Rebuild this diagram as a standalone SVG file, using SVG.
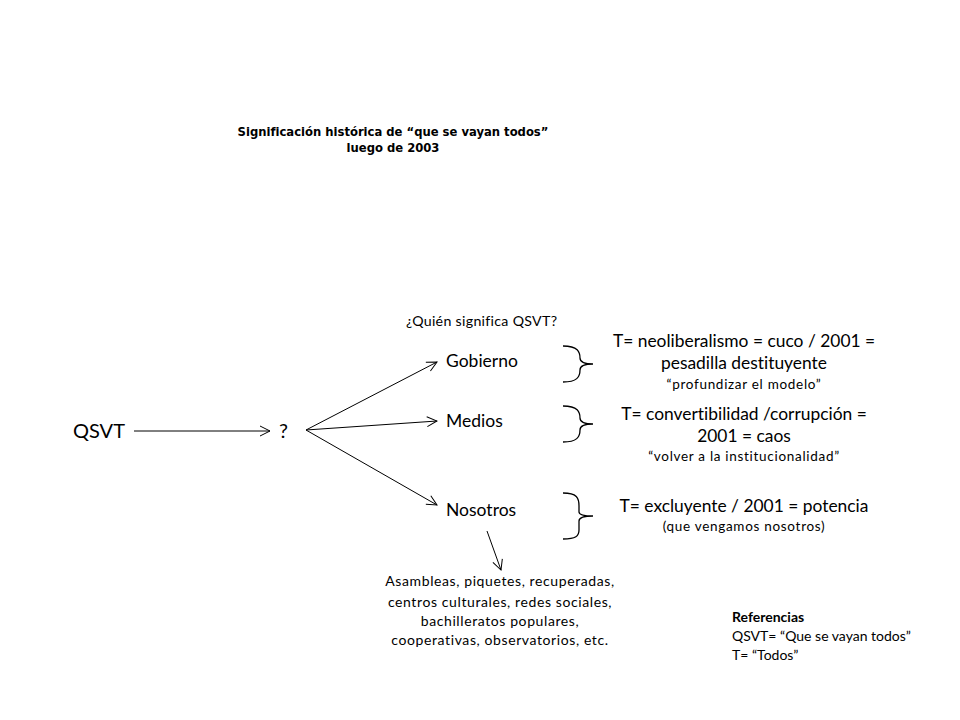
<svg xmlns="http://www.w3.org/2000/svg" width="960" height="720" viewBox="0 0 960 720">
<defs>
<marker id="ah" markerWidth="12" markerHeight="12" refX="11" refY="6" orient="auto" markerUnits="userSpaceOnUse">
<path d="M1,1 L11,6 L1,11" fill="none" stroke="#000" stroke-width="1"/>
</marker>
<style>
text{font-family:Lato,"Open Sans",sans-serif;fill:#000;font-variant-ligatures:none}
.title{font-family:"DejaVu Sans",Verdana,sans-serif;font-size:11.6px;font-weight:bold;text-anchor:middle}
.big{font-size:20px}
.node{font-size:17.5px}
.t{font-size:17.4px;text-anchor:middle}
.s{font-size:13.5px;text-anchor:middle;letter-spacing:0.7px}
.l{font-size:14px;text-anchor:middle;letter-spacing:0.6px}
.ref{font-size:14px}
.q{font-size:14.2px;letter-spacing:0.3px}
.conn{fill:none;stroke:#000;stroke-width:1;marker-end:url(#ah)}
.brace{fill:none;stroke:#000;stroke-width:1.3}
</style>
</defs>
<rect width="960" height="720" fill="#fff"/>
<g id="title">
<text class="title" x="393" y="136">Significación histórica de “que se vayan todos”</text>
<text class="title" x="393" y="152">luego de 2003</text>
</g>
<g id="connectors">
<line class="conn" x1="134" y1="431" x2="270" y2="431"/>
<line class="conn" x1="306" y1="430" x2="437" y2="362"/>
<line class="conn" x1="306" y1="430" x2="437" y2="421"/>
<line class="conn" x1="306" y1="430" x2="437" y2="505"/>
<line class="conn" x1="487" y1="531" x2="501" y2="570"/>
</g>
<g id="qsvt"><text class="big" x="73" y="438">QSVT</text></g>
<g id="q"><text class="big" x="279" y="438">?</text></g>
<g id="quien"><text class="q" x="406" y="326">¿Quién significa QSVT?</text></g>
<g id="gobierno"><text class="node" x="446" y="367">Gobierno</text></g>
<g id="medios"><text class="node" x="446" y="427">Medios</text></g>
<g id="nosotros"><text class="node" x="446" y="516">Nosotros</text></g>
<g id="brace1"><path class="brace" d="M563,346 C578,346 580,352 580,358 C580,362 584,364 593,364 C584,364 580,366 580,370 C580,377 577,382 563,382"/></g>
<g id="brace2"><path class="brace" d="M563,406 C578,406 580,412 580,418 C580,422 584,424 593,424 C584,424 580,426 580,430 C580,437 577,442 563,442"/></g>
<g id="brace3"><path class="brace" d="M563,493 C577,493 579,498 579,506 L579,512 C579,515 584,516 593,516 C584,516 579,517 579,521 L579,530 C579,536 576,539 563,539"/></g>
<g id="gob-text">
<text class="t" x="744" y="347">T= neoliberalismo = cuco / 2001 =</text>
<text class="t" x="744" y="369">pesadilla destituyente</text>
<text class="s" x="744" y="389">“profundizar el modelo”</text>
</g>
<g id="med-text">
<text class="t" x="744" y="420">T= convertibilidad /corrupción =</text>
<text class="t" x="744" y="442">2001 = caos</text>
<text class="s" x="744" y="461">“volver a la institucionalidad”</text>
</g>
<g id="nos-text">
<text class="t" x="744" y="512">T= excluyente / 2001 = potencia</text>
<text class="s" x="744" y="531">(que vengamos nosotros)</text>
</g>
<g id="lista">
<text class="l" x="500" y="586">Asambleas, piquetes,  recuperadas,</text>
<text class="l" x="500" y="607">centros culturales, redes sociales,</text>
<text class="l" x="500" y="626">bachilleratos populares,</text>
<text class="l" x="500" y="645">cooperativas, observatorios, etc.</text>
</g>
<g id="referencias">
<text class="ref" x="732" y="622" font-weight="bold">Referencias</text>
<text class="ref" x="732" y="641">QSVT= “Que se vayan todos”</text>
<text class="ref" x="732" y="660">T= “Todos”</text>
</g>
</svg>
